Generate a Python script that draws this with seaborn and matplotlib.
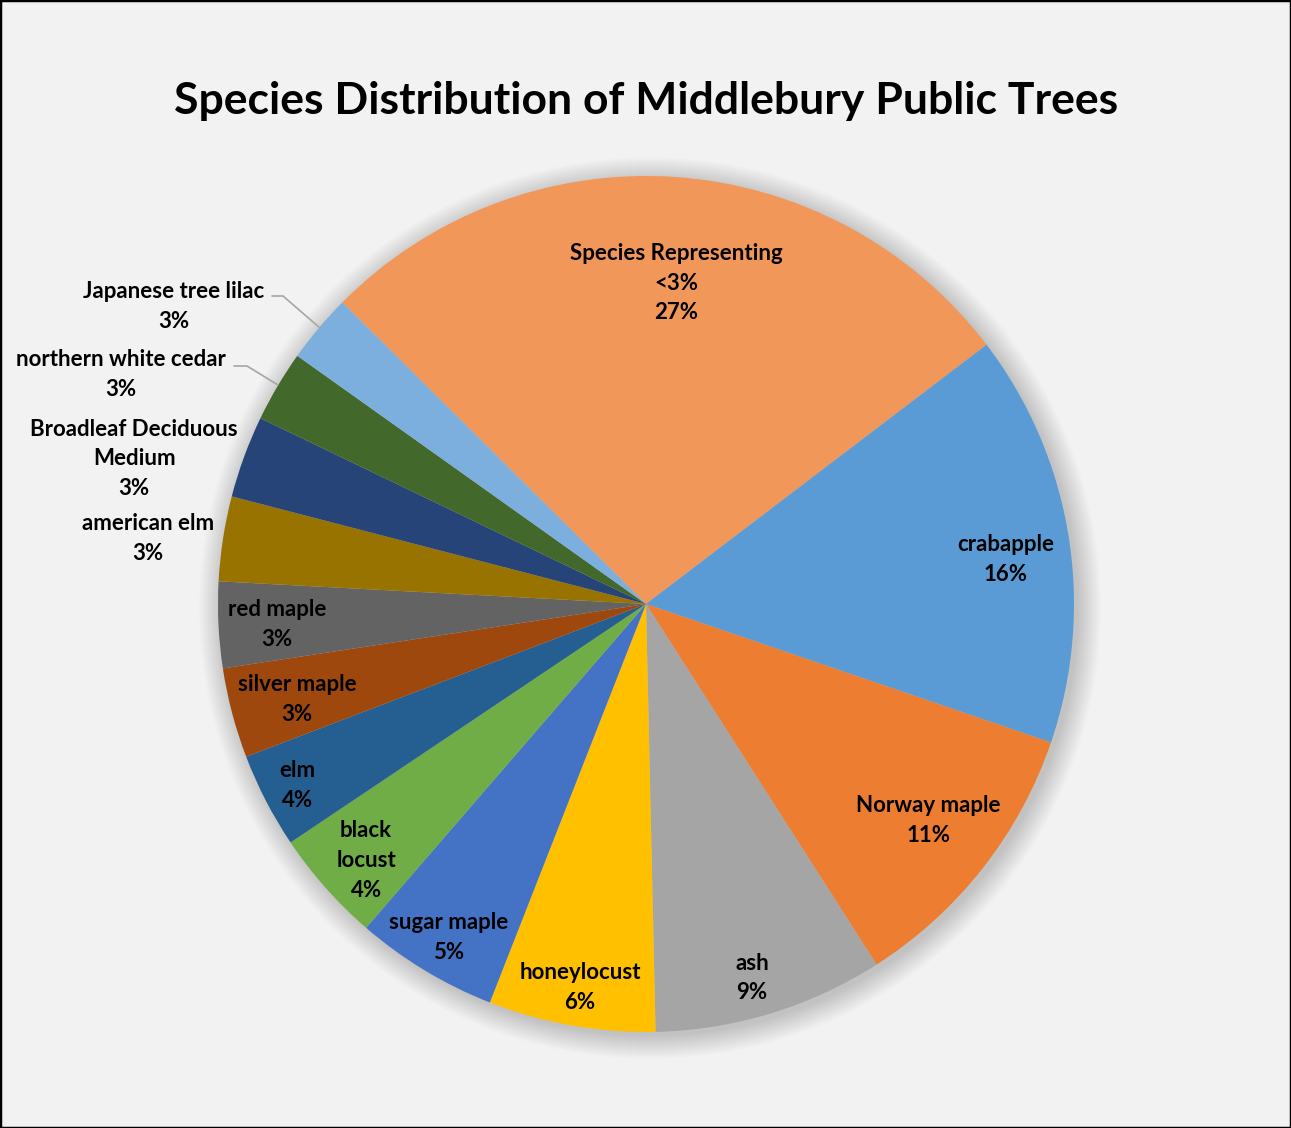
import numpy as np
import matplotlib
matplotlib.use("Agg")
import matplotlib.pyplot as plt
from matplotlib.patches import Circle, Rectangle
import seaborn as sns

# ---- data ----
categories = [
    "Species Representing\n<3%", "crabapple", "Norway maple", "ash", "honeylocust",
    "sugar maple", "black\nlocust", "elm", "silver maple", "red maple",
    "american elm", "Broadleaf Deciduous\nMedium", "northern white cedar",
    "Japanese tree lilac",
]
shares = [27.2, 15.6, 10.7, 8.7, 6.3, 5.4, 4.25, 3.6, 3.4, 3.25, 3.2, 3.1, 2.7, 2.6]
colors = [
    "#F1975A", "#5B9BD5", "#ED7D31", "#A5A5A5", "#FFC000", "#4472C4", "#70AD47",
    "#255E91", "#9E480E", "#636363", "#997300", "#264478", "#43682B", "#7CAFDD",
]
# label anchor positions (unit = pie radius)
label_pos = [
    (0.070, 0.750), (0.841, 0.103), (0.659, -0.505), (0.248, -0.874),
    (-0.154, -0.897), (-0.460, -0.780), (-0.654, -0.600), (-0.815, -0.425),
    (-0.815, -0.224), (-0.862, -0.047), (-1.164, 0.154), (-1.196, 0.339),
    (-1.227, 0.537), (-1.103, 0.696),
]
title = "Species Distribution of Middlebury Public Trees"

# ---- style ----
sns.set_theme(style="white")
plt.rcParams["font.family"] = ["Lato", "DejaVu Sans"]

W, H = 1291, 1128
CX, CY, R = 646, 604, 428  # pixel geometry of the pie

fig = plt.figure(figsize=(W / 100, H / 100), dpi=100, facecolor="#F2F2F2")
ax = fig.add_axes([0, 0, 1, 1])
ax.set_facecolor("#F2F2F2")

def px(x, y):
    return ((x - CX) / R, (CY - y) / R)

# soft shadow
for i in range(24):
    ax.add_patch(Circle((4 / R, -4 / R), 1 + i * 1.0 / R, color="#000000",
                        alpha=0.009, lw=0, zorder=0))

ax.pie(shares, colors=colors, startangle=135.2, counterclock=False,
       radius=1.0, wedgeprops=dict(linewidth=0, zorder=2))

total = sum(shares)
for name, val, (lx, ly) in zip(categories, shares, label_pos):
    pct = int(round(val / total * 100))
    ax.text(lx, ly, f"{name}\n{pct}%", ha="center", va="center",
            fontsize=16, fontweight="bold", color="#000000",
            linespacing=1.52, zorder=5)

# leader lines
for pts in ([(272, 296), (283, 296), (320, 328)],
            [(234, 366), (247, 366), (278, 385)]):
    xs, ys = zip(*[px(*p) for p in pts])
    ax.plot(xs, ys, color="#A6A6A6", lw=1.2, zorder=4)

ax.text(*px(646, 101), title, ha="center", va="center", fontsize=32,
        fontweight="bold", color="#000000")

ax.set_xlim(-CX / R, (W - CX) / R)
ax.set_ylim(-(H - CY) / R, CY / R)
ax.set_aspect("auto")
ax.axis("off")

# outer border
fig.patches.append(Rectangle((0, 0), 1, 1, transform=fig.transFigure,
                             fill=False, edgecolor="#000000", lw=2.5))

fig.savefig("out.png", dpi=100, facecolor=fig.get_facecolor())
